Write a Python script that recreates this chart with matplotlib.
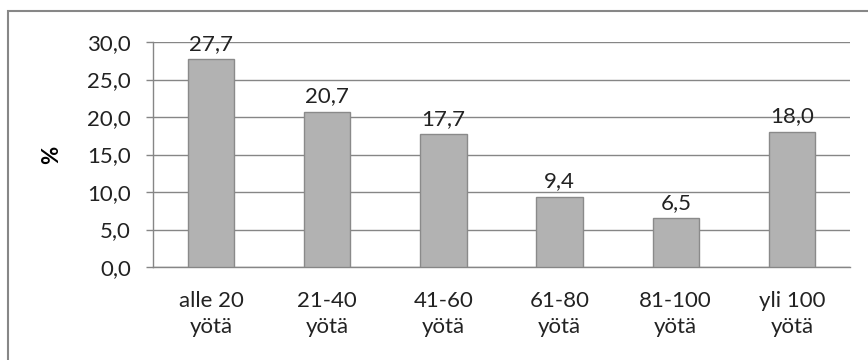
import matplotlib
matplotlib.use("Agg")
import matplotlib.pyplot as plt
from matplotlib.patches import Rectangle

categories = ["alle 20\nyötä", "21-40\nyötä", "41-60\nyötä", "61-80\nyötä", "81-100\nyötä", "yli 100\nyötä"]
values = [27.7, 20.7, 17.7, 9.4, 6.5, 18.0]
yticks = [0, 5, 10, 15, 20, 25, 30]

plt.rcParams['font.family'] = ['Lato', 'DejaVu Sans']

W, H = 868, 360
FS = 16
fig = plt.figure(figsize=(W / 100, H / 100), dpi=100)

# outer chart frame
fig.patches.append(Rectangle((8 / W, -0.1), 1.2, (H - 11) / H + 0.1, transform=fig.transFigure,
                             fill=False, edgecolor="#878787", linewidth=1.5))

ax = fig.add_axes([153 / W, 1 - 267 / H, (850 - 153) / W, (267 - 42) / H])
x = list(range(len(categories)))
ax.bar(x, values, width=0.4, color="#b2b2b2", edgecolor="#8a8a8a", linewidth=1.0, zorder=3)
ax.set_xlim(-0.5, len(categories) - 0.5)
ax.set_ylim(0, 30)
ax.set_yticks(yticks)
ax.set_yticklabels([f"{v:.1f}".replace(".", ",") for v in yticks], fontsize=FS, color="#222222")
ax.set_xticks(x)
ax.set_xticklabels(categories, fontsize=FS, color="#222222", linespacing=1.4)
ax.tick_params(axis="x", length=0, pad=17)
ax.tick_params(axis="y", length=5, color="#868686", width=1, pad=11)
ax.grid(axis="y", color="#868686", linewidth=1, zorder=0)
for s in ["top", "right"]:
    ax.spines[s].set_visible(False)
for s in ["left", "bottom"]:
    ax.spines[s].set_color("#868686")
    ax.spines[s].set_linewidth(1)
ax.set_ylabel("%", fontsize=FS, fontweight="bold", labelpad=18)

for xi, v in zip(x, values):
    ax.annotate(f"{v:.1f}".replace(".", ","), (xi, v), xytext=(0, 4), textcoords="offset points",
                ha="center", va="bottom", fontsize=FS, color="#222222", zorder=4)

fig.savefig("out.png", dpi=100)
